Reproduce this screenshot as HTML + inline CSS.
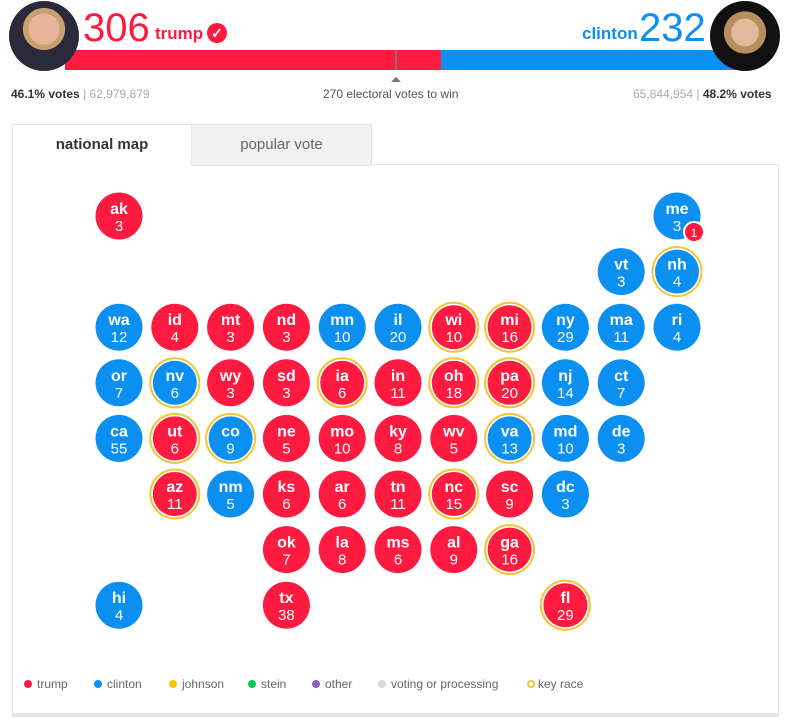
<!DOCTYPE html>
<html><head><meta charset="utf-8"><style>
body{margin:0;width:787px;height:721px;background:#fff;font-family:"Liberation Sans",sans-serif;overflow:hidden;position:relative}
.a{position:absolute}
.lg{position:absolute;top:0;display:flex;align-items:center;gap:5px}
.dot{width:8px;height:8px;border-radius:50%;display:inline-block}
</style></head><body>
<div class="a" style="left:9px;top:1px;width:70px;height:70px;border-radius:50%;background:radial-gradient(circle at 50% 40%,#e8b49a 0 28%,#c9a070 29% 38%,#2a2a3a 39%);z-index:2"></div>
<div class="a" style="left:83px;top:6px;font-size:40px;font-weight:300;color:#ff1a40;line-height:44px">306</div>
<div class="a" style="left:155px;top:24px;font-size:17px;font-weight:bold;color:#ff1a40">trump</div>
<div class="a" style="left:207px;top:23px;width:20px;height:20px;border-radius:50%;background:#ff1a40;color:#fff;font-size:14px;font-weight:bold;text-align:center;line-height:20px">✓</div>
<div class="a" style="left:582px;top:24px;font-size:17px;font-weight:bold;color:#0b8ff0">clinton</div>
<div class="a" style="left:639px;top:6px;font-size:40px;font-weight:300;color:#0b8ff0;line-height:44px">232</div>
<div class="a" style="left:710px;top:1px;width:70px;height:70px;border-radius:50%;background:radial-gradient(circle at 50% 45%,#e2b99c 0 26%,#b89060 27% 40%,#111 41%);z-index:2"></div>
<div class="a" style="left:65px;top:50px;width:376px;height:20px;background:#ff1a40"></div>
<div class="a" style="left:441px;top:50px;width:300px;height:20px;background:#0b8ff0"></div>
<div class="a" style="left:395px;top:50px;width:2px;height:20px;background:#777"></div>
<div class="a" style="left:391px;top:77px;width:0;height:0;border-left:5px solid transparent;border-right:5px solid transparent;border-bottom:5px solid #777"></div>
<div class="a" style="left:11px;top:87px;font-size:12px;color:#333"><b>46.1% votes</b> <span style="color:#aaa">| 62,979,879</span></div>
<div class="a" style="left:323px;top:87px;font-size:12px;color:#555">270 electoral votes to win</div>
<div class="a" style="left:633px;top:87px;font-size:12px;color:#333"><span style="color:#aaa">65,844,954 |</span> <b>48.2% votes</b></div>
<div class="a" style="left:12px;top:164px;width:765px;height:548px;border:1px solid #e5e5e5;border-bottom:4px solid #e5e5e5"></div>
<div class="a" style="left:12px;top:124px;width:178px;height:41px;border:1px solid #e5e5e5;border-bottom:none;background:#fff;font-size:15px;font-weight:bold;color:#333;text-align:center;line-height:40px">national map</div>
<div class="a" style="left:191px;top:124px;width:179px;height:40px;border:1px solid #e5e5e5;background:#f1f1f1;font-size:15px;color:#666;text-align:center;line-height:40px">popular vote</div>
<svg class="a" id="map" style="left:0;top:0" width="787" height="721"></svg>
<div class="a" style="left:24px;top:677px;font-size:12px;color:#666;white-space:nowrap;height:16px">
<span class="lg" style="left:0"><i class="dot" style="background:#ff1a40"></i>trump</span>
<span class="lg" style="left:70px"><i class="dot" style="background:#0b8ff0"></i>clinton</span>
<span class="lg" style="left:145px"><i class="dot" style="background:#ffc400"></i>johnson</span>
<span class="lg" style="left:224px"><i class="dot" style="background:#00c853"></i>stein</span>
<span class="lg" style="left:288px"><i class="dot" style="background:#8e5cc2"></i>other</span>
<span class="lg" style="left:354px"><i class="dot" style="background:#d8d8d8"></i>voting or processing</span>
<span class="lg" style="left:503px;gap:3px"><i class="dot" style="box-sizing:border-box;border:2px solid #f5c531"></i>key race</span>
</div>
<script>
const states=["ak","me","vt","nh","wa","id","mt","nd","mn","il","wi","mi","ny","ma","ri","or","nv","wy","sd","ia","in","oh","pa","nj","ct","ca","ut","co","ne","mo","ky","wv","va","md","de","az","nm","ks","ar","tn","nc","sc","dc","ok","la","ms","al","ga","hi","tx","fl"];
const votes=[3,3,3,4,12,4,3,3,10,20,10,16,29,11,4,7,6,3,3,6,11,18,20,14,7,55,6,9,5,10,8,5,13,10,3,11,5,6,6,11,15,9,3,7,8,6,9,16,4,38,29];
const winners="TCCCCTTTCCTTCCCCCTTTTTTCCCTCTTTTCCCTCTTTTTCTTTTTCTT".split("");
const rows=[0,0,1,1,2,2,2,2,2,2,2,2,2,2,2,3,3,3,3,3,3,3,3,3,3,4,4,4,4,4,4,4,4,4,4,5,5,5,5,5,5,5,5,6,6,6,6,6,7,7,7];
const cols=[0,10,9,10,0,1,2,3,4,5,6,7,8,9,10,0,1,2,3,4,5,6,7,8,9,0,1,2,3,4,5,6,7,8,9,1,2,3,4,5,6,7,8,3,4,5,6,7,0,3,8];
const keyRaces=["nh","wi","mi","nv","ia","oh","pa","ut","co","va","az","nc","ga","fl"];
const X=c=>119+c*55.8, Y=r=>216+r*55.6;
const svg=document.getElementById('map'),NS="http://www.w3.org/2000/svg";
function mk(t,a){const e=document.createElementNS(NS,t);for(const k in a)e.setAttribute(k,a[k]);return e;}
states.forEach((s,i)=>{
 const cx=X(cols[i]),cy=Y(rows[i]),key=keyRaces.includes(s);
 const g=mk('g',{});
 
 
 if(key)g.appendChild(mk('circle',{cx:cx,cy:cy,r:24.5,fill:'none',stroke:'#f5c531','stroke-width':2}));
 g.appendChild(mk('circle',{cx:cx,cy:cy,r:key?22:23.5,fill:winners[i]=='T'?'#ff1a40':'#0b8ff0'}));
 const t1=mk('text',{x:cx,y:cy-2,'text-anchor':'middle','font-size':16,'font-weight':'bold',fill:'#fff','font-family':'Liberation Sans, sans-serif'});t1.textContent=s;g.appendChild(t1);
 const t2=mk('text',{x:cx,y:cy+15,'text-anchor':'middle','font-size':15,fill:'#fff','font-family':'Liberation Sans, sans-serif'});t2.textContent=votes[i];g.appendChild(t2);
 svg.appendChild(g);
});
const b=mk('g',{});


b.appendChild(mk('circle',{cx:694,cy:232,r:10,fill:'#ff1a40',stroke:'#fff','stroke-width':2}));
const bt=mk('text',{x:694,y:237,'text-anchor':'middle','font-size':12,fill:'#fff','font-family':'Liberation Sans, sans-serif'});bt.textContent='1';b.appendChild(bt);
svg.appendChild(b);
</script>
</body></html>
